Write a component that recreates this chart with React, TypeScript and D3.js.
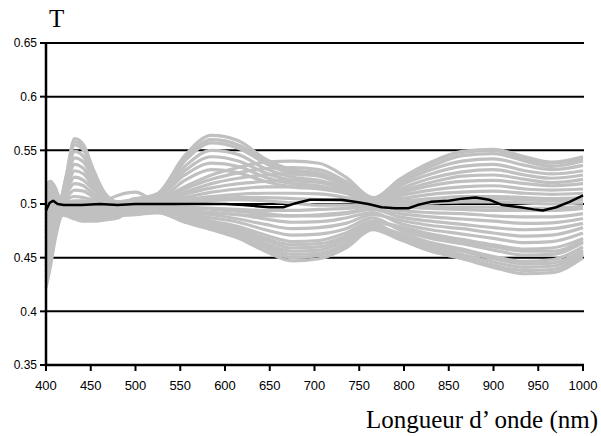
import React from "react";
import * as d3 from "d3";

// Wavelength grid (nm) shared by all grey spectra
const wavelengths = [400, 405, 410, 416, 422, 432, 442, 452, 465, 480, 500, 525, 555, 585, 615, 645, 675, 705, 735, 765, 795, 830, 865, 900, 935, 965, 1000];

// Grey spectra (transmittance T)
const s01 = [0.518, 0.521, 0.516, 0.505, 0.524, 0.561, 0.555, 0.534, 0.511, 0.502, 0.504, 0.510, 0.545, 0.564, 0.559, 0.542, 0.532, 0.529, 0.519, 0.505, 0.523, 0.539, 0.549, 0.551, 0.544, 0.539, 0.544];
const s02 = [0.505, 0.512, 0.508, 0.503, 0.522, 0.555, 0.550, 0.530, 0.510, 0.501, 0.505, 0.509, 0.540, 0.557, 0.552, 0.538, 0.528, 0.526, 0.517, 0.505, 0.519, 0.532, 0.540, 0.542, 0.536, 0.532, 0.536];
const s03 = [0.512, 0.517, 0.512, 0.504, 0.520, 0.549, 0.544, 0.527, 0.509, 0.501, 0.503, 0.508, 0.535, 0.550, 0.546, 0.533, 0.525, 0.522, 0.515, 0.504, 0.521, 0.535, 0.545, 0.547, 0.540, 0.535, 0.540];
const s04 = [0.490, 0.500, 0.502, 0.501, 0.517, 0.543, 0.539, 0.524, 0.508, 0.500, 0.504, 0.507, 0.531, 0.544, 0.540, 0.529, 0.522, 0.520, 0.513, 0.504, 0.514, 0.524, 0.530, 0.532, 0.527, 0.524, 0.527];
const s05 = [0.472, 0.486, 0.496, 0.500, 0.515, 0.537, 0.533, 0.520, 0.507, 0.500, 0.502, 0.506, 0.527, 0.538, 0.535, 0.525, 0.519, 0.517, 0.511, 0.503, 0.517, 0.528, 0.535, 0.537, 0.531, 0.528, 0.531];
const s06 = [0.498, 0.507, 0.505, 0.502, 0.512, 0.531, 0.528, 0.517, 0.506, 0.499, 0.505, 0.505, 0.522, 0.532, 0.529, 0.521, 0.516, 0.514, 0.510, 0.503, 0.510, 0.517, 0.521, 0.522, 0.519, 0.517, 0.519];
const s07 = [0.482, 0.493, 0.499, 0.501, 0.510, 0.525, 0.522, 0.514, 0.505, 0.499, 0.502, 0.504, 0.516, 0.527, 0.534, 0.539, 0.540, 0.538, 0.525, 0.506, 0.512, 0.520, 0.526, 0.527, 0.523, 0.520, 0.523];
const s08 = [0.452, 0.470, 0.490, 0.498, 0.508, 0.519, 0.517, 0.510, 0.503, 0.498, 0.501, 0.503, 0.514, 0.523, 0.529, 0.533, 0.534, 0.532, 0.521, 0.505, 0.508, 0.513, 0.516, 0.517, 0.514, 0.513, 0.514];
const s09 = [0.462, 0.478, 0.493, 0.499, 0.505, 0.513, 0.512, 0.507, 0.502, 0.498, 0.500, 0.503, 0.511, 0.519, 0.524, 0.527, 0.528, 0.527, 0.517, 0.504, 0.505, 0.509, 0.511, 0.512, 0.510, 0.509, 0.510];
const s10 = [0.432, 0.452, 0.480, 0.495, 0.503, 0.507, 0.506, 0.504, 0.501, 0.497, 0.499, 0.502, 0.509, 0.515, 0.519, 0.521, 0.522, 0.521, 0.514, 0.503, 0.503, 0.505, 0.507, 0.507, 0.506, 0.505, 0.506];
const s11 = [0.442, 0.462, 0.487, 0.497, 0.501, 0.503, 0.503, 0.502, 0.503, 0.508, 0.511, 0.502, 0.506, 0.511, 0.514, 0.516, 0.516, 0.515, 0.510, 0.502, 0.502, 0.503, 0.504, 0.505, 0.504, 0.503, 0.504];
const s12 = [0.422, 0.442, 0.466, 0.487, 0.494, 0.499, 0.501, 0.500, 0.500, 0.502, 0.503, 0.501, 0.504, 0.507, 0.509, 0.510, 0.510, 0.5095, 0.506, 0.5015, 0.500, 0.501, 0.502, 0.502, 0.501, 0.500, 0.501];
const s13 = [0.508, 0.514, 0.510, 0.503, 0.500, 0.498, 0.497, 0.498, 0.499, 0.500, 0.500, 0.500, 0.501, 0.503, 0.504, 0.503, 0.501, 0.499, 0.499, 0.500, 0.499, 0.498, 0.497, 0.497, 0.496, 0.496, 0.498];
const s14 = [0.495, 0.503, 0.504, 0.499, 0.496, 0.495, 0.494, 0.494, 0.495, 0.496, 0.497, 0.498, 0.497, 0.496, 0.495, 0.494, 0.494, 0.495, 0.496, 0.498, 0.497, 0.496, 0.495, 0.494, 0.494, 0.494, 0.496];
const s15 = [0.478, 0.490, 0.497, 0.501, 0.502, 0.501, 0.499, 0.499, 0.500, 0.501, 0.501, 0.501, 0.503, 0.505, 0.506, 0.506, 0.505, 0.504, 0.503, 0.501, 0.494, 0.492, 0.491, 0.489, 0.488, 0.488, 0.491];
const s16 = [0.468, 0.482, 0.494, 0.498, 0.497, 0.494, 0.492, 0.491, 0.492, 0.494, 0.496, 0.497, 0.494, 0.492, 0.490, 0.489, 0.489, 0.490, 0.492, 0.496, 0.491, 0.488, 0.486, 0.484, 0.482, 0.4825, 0.4865];
const s17 = [0.515, 0.519, 0.512, 0.500, 0.493, 0.489, 0.487, 0.486, 0.487, 0.489, 0.491, 0.492, 0.483, 0.476, 0.468, 0.456, 0.447, 0.449, 0.459, 0.476, 0.467, 0.456, 0.449, 0.441, 0.435, 0.436, 0.450];
const s18 = [0.458, 0.474, 0.489, 0.495, 0.494, 0.491, 0.489, 0.488, 0.489, 0.491, 0.492, 0.493, 0.485, 0.479, 0.472, 0.461, 0.453, 0.454, 0.463, 0.479, 0.473, 0.464, 0.458, 0.451, 0.4465, 0.448, 0.460];
const s19 = [0.502, 0.509, 0.507, 0.500, 0.496, 0.492, 0.490, 0.490, 0.491, 0.492, 0.493, 0.494, 0.487, 0.482, 0.475, 0.466, 0.459, 0.460, 0.468, 0.482, 0.470, 0.460, 0.453, 0.446, 0.441, 0.442, 0.455];
const s20 = [0.448, 0.466, 0.484, 0.493, 0.491, 0.488, 0.486, 0.485, 0.486, 0.488, 0.494, 0.495, 0.489, 0.484, 0.479, 0.471, 0.465, 0.466, 0.473, 0.484, 0.479, 0.472, 0.467, 0.462, 0.458, 0.459, 0.468];
const s21 = [0.486, 0.497, 0.501, 0.498, 0.495, 0.493, 0.492, 0.492, 0.493, 0.494, 0.495, 0.496, 0.491, 0.487, 0.483, 0.476, 0.471, 0.472, 0.477, 0.487, 0.476, 0.468, 0.463, 0.457, 0.4525, 0.453, 0.464];
const s22 = [0.437, 0.456, 0.478, 0.490, 0.489, 0.486, 0.484, 0.484, 0.485, 0.487, 0.496, 0.497, 0.493, 0.490, 0.486, 0.481, 0.477, 0.478, 0.482, 0.490, 0.485, 0.480, 0.477, 0.473, 0.470, 0.471, 0.478];
const s23 = [0.494, 0.505, 0.506, 0.501, 0.498, 0.496, 0.495, 0.496, 0.497, 0.498, 0.497, 0.497, 0.495, 0.492, 0.490, 0.486, 0.483, 0.4835, 0.487, 0.492, 0.482, 0.476, 0.472, 0.468, 0.464, 0.465, 0.473];
const s24 = [0.427, 0.448, 0.472, 0.489, 0.492, 0.490, 0.488, 0.487, 0.488, 0.490, 0.498, 0.498, 0.4965, 0.495, 0.493, 0.491, 0.489, 0.489, 0.491, 0.495, 0.488, 0.484, 0.481, 0.478, 0.476, 0.477, 0.482];
const s25 = [0.475, 0.488, 0.495, 0.497, 0.494, 0.490, 0.487, 0.486, 0.487, 0.489, 0.490, 0.492, 0.484, 0.478, 0.470, 0.459, 0.450, 0.452, 0.461, 0.478, 0.468, 0.458, 0.451, 0.443, 0.438, 0.439, 0.453];
const s26 = [0.510, 0.516, 0.511, 0.501, 0.495, 0.491, 0.489, 0.488, 0.488, 0.490, 0.491, 0.493, 0.486, 0.480, 0.474, 0.463, 0.456, 0.457, 0.466, 0.480, 0.471, 0.462, 0.456, 0.449, 0.444, 0.445, 0.457];
const s27 = [0.445, 0.463, 0.483, 0.492, 0.492, 0.490, 0.488, 0.486, 0.486, 0.489, 0.492, 0.494, 0.488, 0.483, 0.477, 0.468, 0.462, 0.463, 0.470, 0.483, 0.478, 0.470, 0.465, 0.460, 0.456, 0.456, 0.466];
const s28 = [0.515, 0.519, 0.514, 0.504, 0.523, 0.558, 0.552, 0.532, 0.510, 0.502, 0.504, 0.509, 0.542, 0.560, 0.555, 0.540, 0.530, 0.527, 0.518, 0.505, 0.522, 0.538, 0.548, 0.550, 0.542, 0.538, 0.542];

const greySeries = [s01, s02, s03, s04, s05, s06, s07, s08, s09, s10, s11, s12, s13, s14, s15, s16, s17, s18, s19, s20, s21, s22, s23, s24, s25, s26, s27, s28];

// Mean spectrum (black)
const meanWavelengths = [400, 404, 408, 413, 420, 440, 460, 480, 500, 520, 540, 560, 580, 600, 620, 635, 650, 665, 680, 695, 710, 730, 745, 760, 775, 790, 805, 815, 830, 850, 865, 880, 895, 910, 930, 945, 955, 970, 985, 1000];
const meanValues = [0.494, 0.501, 0.503, 0.500, 0.499, 0.499, 0.500, 0.499, 0.500, 0.500, 0.500, 0.500, 0.500, 0.500, 0.499, 0.498, 0.497, 0.497, 0.501, 0.504, 0.504, 0.504, 0.502, 0.500, 0.497, 0.496, 0.496, 0.499, 0.502, 0.503, 0.505, 0.506, 0.504, 0.499, 0.497, 0.495, 0.494, 0.497, 0.502, 0.508];

const xTicks = [400, 450, 500, 550, 600, 650, 700, 750, 800, 850, 900, 950, 1000];
const yTicks = [0.35, 0.4, 0.45, 0.5, 0.55, 0.6, 0.65];
const yTickLabels = ["0.35", "0.4", "0.45", "0.5", "0.55", "0.6", "0.65"];

export default function App() {
  const W = 601, H = 436;
  const x = d3.scaleLinear().domain([400, 1000]).range([46, 583]);
  const y = d3.scaleLinear().domain([0.35, 0.65]).range([365, 43]);

  const greyLine = d3.line<number>()
    .x((_, i) => x(wavelengths[i]))
    .y((d) => y(d))
    .curve(d3.curveMonotoneX);

  const meanLine = d3.line<number>()
    .x((_, i) => x(meanWavelengths[i]))
    .y((d) => y(d))
    .curve(d3.curveLinear);

  const sans = "'Liberation Sans', Arial, sans-serif";
  const serif = "'Liberation Serif', 'Times New Roman', serif";

  return (
    <svg width={W} height={H} style={{ position: "absolute", left: 0, top: 0, background: "#fff" }}>
      <rect x={0} y={0} width={W} height={H} fill="#fff" />
      {yTicks.slice(1).map((t) => (
        <line key={t} x1={x(400)} x2={x(1000) + 1} y1={y(t)} y2={y(t)} stroke="#000" strokeWidth={2} />
      ))}
      <g fill="none" stroke="#c0c0c0" strokeWidth={3.2} strokeLinejoin="round">
        {greySeries.map((s, i) => (
          <path key={i} d={greyLine(s) || ""} />
        ))}
      </g>
      <path d={meanLine(meanValues) || ""} fill="none" stroke="#000" strokeWidth={2.5} strokeLinejoin="round" />
      <line x1={x(400)} x2={x(1000) + 1} y1={y(0.35)} y2={y(0.35)} stroke="#000" strokeWidth={2.5} />
      <line x1={x(400)} x2={x(400)} y1={y(0.65) - 1} y2={y(0.35) + 1} stroke="#000" strokeWidth={2.5} />
      {yTicks.map((t, i) => (
        <g key={t}>
          <line x1={x(400) - 6} x2={x(400)} y1={y(t)} y2={y(t)} stroke="#000" strokeWidth={2} />
          <text x={37} y={y(t)} dy="0.35em" textAnchor="end" fontFamily={sans} fontSize={12} fill="#000">
            {yTickLabels[i]}
          </text>
        </g>
      ))}
      {xTicks.map((t) => (
        <g key={t}>
          <line x1={x(t)} x2={x(t)} y1={y(0.35)} y2={y(0.35) + 6} stroke="#000" strokeWidth={2} />
          <text x={x(t)} y={390} textAnchor="middle" fontFamily={sans} fontSize={13} fill="#000">
            {t}
          </text>
        </g>
      ))}
      <text x={49} y={27} fontFamily={serif} fontSize={25} fill="#000">T</text>
      <text x={598} y={428} textAnchor="end" fontFamily={serif} fontSize={25} fill="#000">Longueur d’ onde (nm)</text>
    </svg>
  );
}
